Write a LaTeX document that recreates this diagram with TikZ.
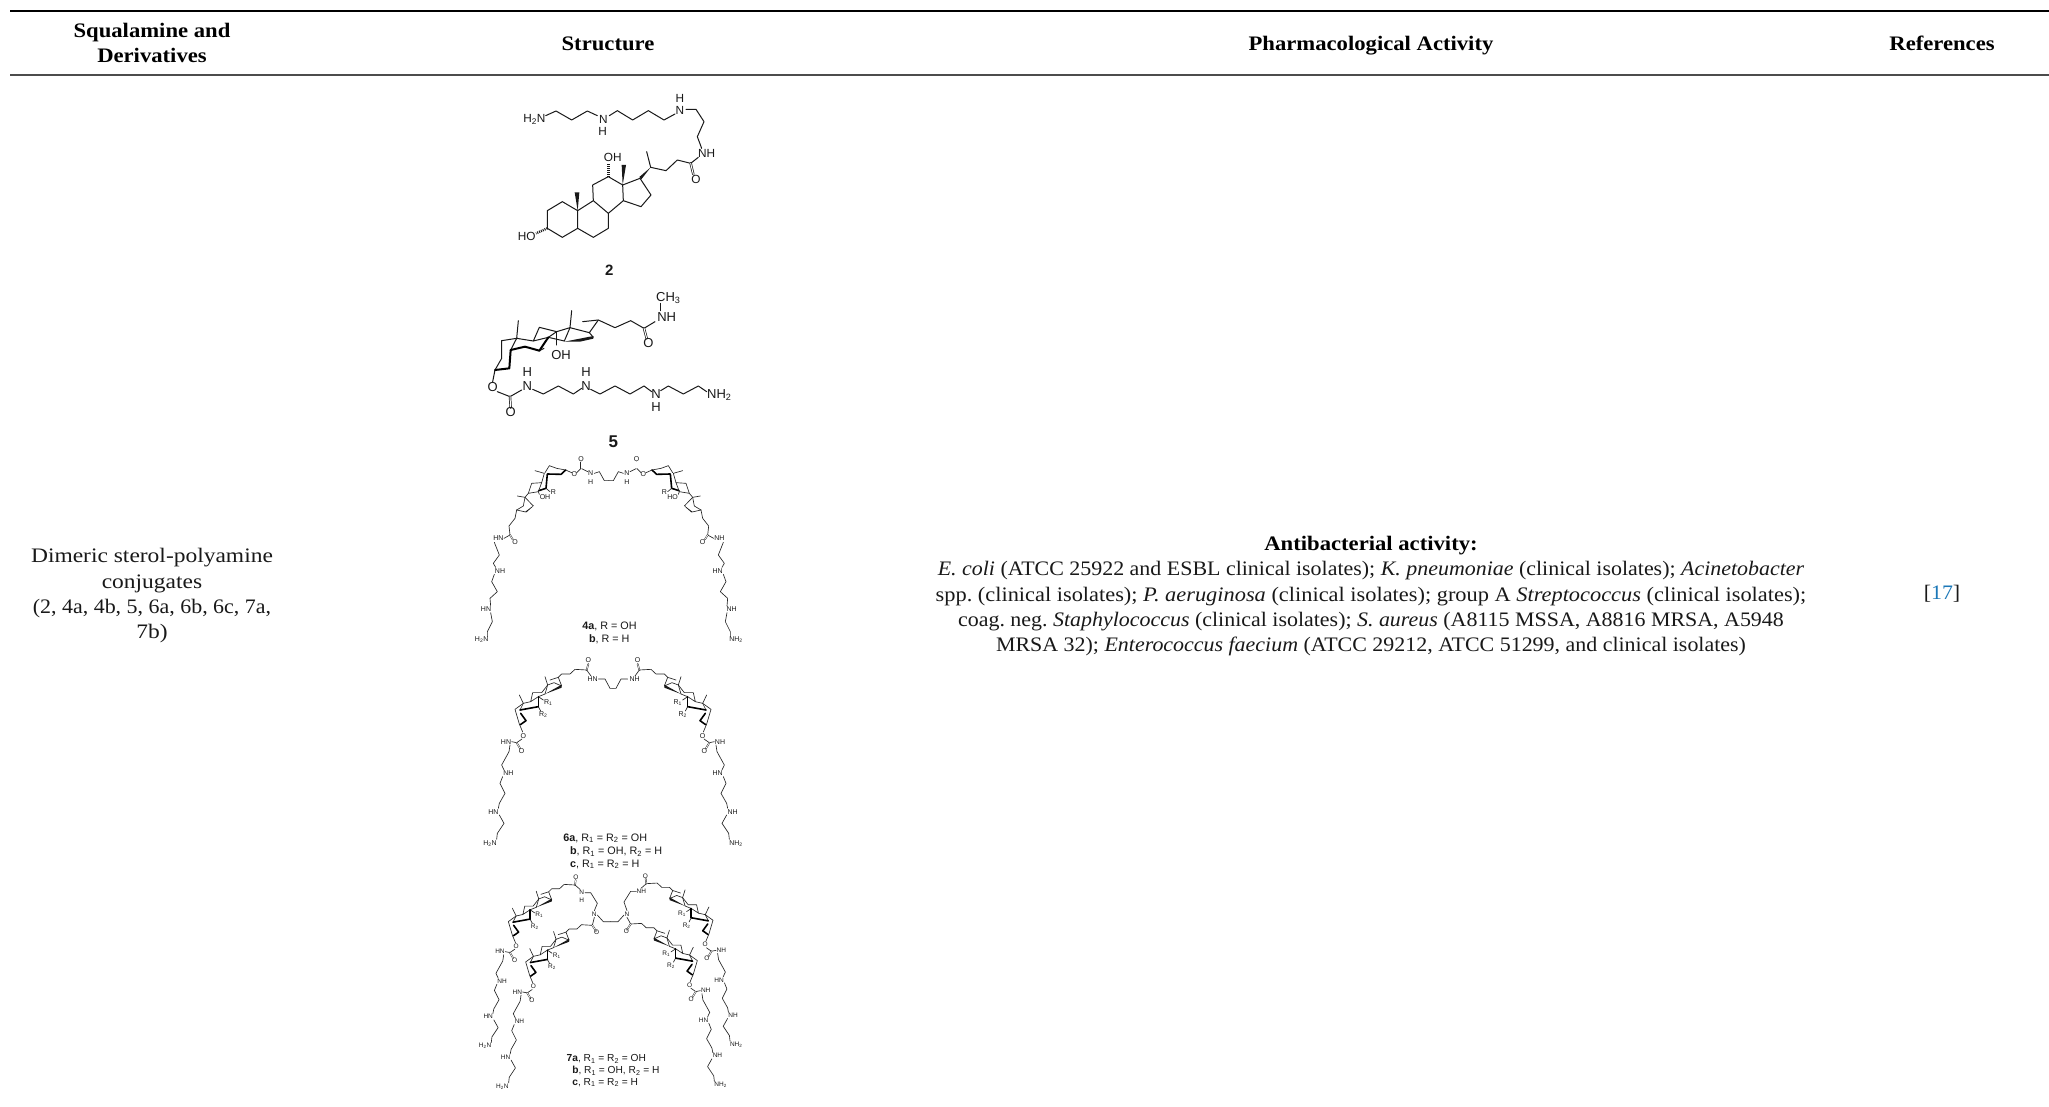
\documentclass[tikz,border=0pt]{standalone}
\usepackage{fontspec}
\usepackage{xcolor}
\setmainfont[FakeStretch=1.065]{Liberation Serif}
\newfontfamily\boldf[FakeStretch=1.1]{Liberation Serif}
\newfontfamily\chemf{Liberation Sans}
\definecolor{reflink}{HTML}{1C78B8}
\newcounter{labc}
\def\lb(#1,#2)#3{\stepcounter{labc}\node[lab] (lab\arabic{labc}) at (#1,#2) {#3};}
\newcommand{\cfs}[1]{\chemf\fontsize{#1}{#1}\selectfont}
\tikzset{
  lab/.style={inner sep=0pt,outer sep=0pt,text=black!90},
  bondl/.style={line width=1pt,line join=round,line cap=round,black!90},
  bonds/.style={line width=.65pt,line join=round,line cap=round,black!85},
  bolds/.style={line width=1.6pt,line join=round,line cap=round,black},
  boldl/.style={line width=2pt,line join=round,line cap=round,black},
  dbll/.style={bondl,double,double distance=1pt,line width=.7pt},
  dbls/.style={line width=.45pt,line cap=round,double,double distance=.7pt,black!85},
  hashb/.style={bondl,dash pattern=on 1pt off 1pt,line width=2.4pt,line cap=butt},
  tabt/.style={inner sep=0pt,outer sep=0pt,anchor=base,font=\fontsize{20.6}{25}\selectfont,text=black!90},
  tabb/.style={tabt,font=\boldf\fontsize{20.6}{25}\selectfont\bfseries,text=black},
  wedgef/.style={fill=black!90},
}
\newcommand{\armsix}[4]{%
  \draw[bonds] (380,60)--(345,58)--(330,72)--(305,72)--(295,82)--(270,90);
  \draw[bonds] (295,82)--(305,108)--(282,98)--(263,105)--(255,80);
  \draw[bonds] (263,105)--(255,132);
  \draw[bonds] (263,105)--(245,128)--(218,128)--(212,155)--(235,140)--(255,132);
  \fill[wedgef] (255,132)--(305,104)--(305,113)--cycle;
  \draw[bonds] (235,140)--(250,150);
  \draw[bolds] (235,140)--(235,170);
  \draw[bonds] (235,170)--(242,183);
  \draw[bonds] (178,135)--(190,160)--(165,178)--(178,222)--(188,246);
  \draw[bonds] (190,160)--(212,155);
  \draw[bonds] (190,160)--(180,180);
  \draw[bolds] (180,180)--(235,170);
  \draw[bolds] (182,190)--(198,212)--(181,224);
  \draw[bonds] (186,267)--(170,278)--(155,275);
  \draw[dbls] (170,278)--(180,295);
  \draw[bonds] (150,285)--(147,305)--(125,345)--(132,360);
  \draw[bonds] (128,380)--(120,400)--(135,430)--(118,460)--(115,475);
  \draw[bonds] (118,495)--(132,520)--(112,550)--(110,568);
  \lb(190,257){O}
  \lb(185,302){O}
  \lb(138,275){#1}
  \lb(145,370){#2}
  \lb(100,485){#3}
  \lb(90,580){#4}
  \lb(265,157){R\textsubscript{1}}
  \lb(250,195){R\textsubscript{2}}
}
\newcommand{\armfour}[6]{%
  \draw[bonds] (447,92)--(433,92)--(418,65)--(403,70);
  \draw[bonds] (383,65)--(363,55)--(350,68);
  \draw[dbls] (363,55)--(363,37);
  \draw[bonds] (335,68)--(317,60)--(290,55)--(268,47)--(255,68);
  \draw[bolds] (317,60)--(303,73)--(262,72)--(258,115)--(236,122);
  \draw[bonds] (225,62)--(253,70)--(245,98)--(215,100)--(205,130)--(235,125);
  \draw[bonds] (245,98)--(235,125)--(238,133);
  \draw[bonds] (258,115)--(270,125);
  \draw[bonds] (172,138)--(195,142)--(205,130);
  \draw[bonds] (195,142)--(190,168)--(170,180);
  \draw[bonds] (195,142)--(220,168);
  \fill[wedgef] (196,185)--(221,166)--(216,172)--(199,187)--cycle;
  \draw[bonds] (170,180)--(197,186);
  \draw[bonds] (170,180)--(165,205)--(147,228)--(150,255)--(132,265);
  \draw[dbls] (150,255)--(158,268);
  \draw[bonds] (103,277)--(118,315)--(100,340)--(107,352);
  \draw[bonds] (103,373)--(95,395)--(112,425)--(90,445)--(92,468);
  \draw[bonds] (92,488)--(97,515)--(82,545)--(82,560);
  \lb(343,72){O}
  \lb(363,28){O}
  \lb(392,70){N}
  \lb(392,95){H}
  \lb(255,142){#1}
  \lb(280,127){#2}
  \lb(165,276){O}
  \lb(115,265){#3}
  \lb(120,363){#4}
  \lb(78,478){#5}
  \lb(65,570){#6}
}
\begin{document}
\begin{tikzpicture}[x=1pt,y=-1pt]
\useasboundingbox (0,0) rectangle (2049,1107);
\fill[white] (0,0) rectangle (2049,1107);
\coordinate (r1a) at (10,11); \coordinate (r1b) at (2049,11);
\coordinate (r2a) at (10,75); \coordinate (r2b) at (2049,75);
\draw[line width=2.2pt,black] (r1a)--(r1b);
\draw[line width=1.2pt,black!70] (r2a)--(r2b);
\node[tabb] (h1a) at (152,37.5) {Squalamine and};
\node[tabb] (h1b) at (152,62.5) {Derivatives};
\node[tabb] (h2) at (608,50.5) {Structure};
\node[tabb] (h3) at (1371,50.5) {Pharmacological Activity};
\node[tabb] (h4) at (1942,50.5) {References};
\node[tabt,xscale=1.07,transform shape] (c1a) at (152,562) {Dimeric sterol-polyamine};
\node[tabt,xscale=1.07,transform shape] (c1b) at (152,588) {conjugates};
\node[tabt] (c1c) at (152,613) {(2, 4a, 4b, 5, 6a, 6b, 6c, 7a,};
\node[tabt,xscale=1.07,transform shape] (c1d) at (152,638) {7b)};
\node[tabb] (a0) at (1371,550) {Antibacterial activity:};
\node[tabt] (a1) at (1371,575) {\textit{E.\ coli} (ATCC 25922 and ESBL clinical isolates); \textit{K.\ pneumoniae} (clinical isolates); \textit{Acinetobacter}};
\node[tabt,xscale=1.02,transform shape] (a2) at (1371,601) {spp.\ (clinical isolates); \textit{P.\ aeruginosa} (clinical isolates); group A \textit{Streptococcus} (clinical isolates);};
\node[tabt] (a3) at (1371,626) {coag.\ neg.\ \textit{Staphylococcus} (clinical isolates); \textit{S.\ aureus} (A8115 MSSA, A8816 MRSA, A5948};
\node[tabt] (a4) at (1371,651) {MRSA 32); \textit{Enterococcus faecium} (ATCC 29212, ATCC 51299, and clinical isolates)};
\node[tabt] (ref) at (1942,599) {[{\color{reflink}17}]};
% molecule 2
\begin{scope}[shift={(480,80)},scale=1/3,every node/.append style={font=\cfs{11.8}}]
\draw[bondl] (197,107)--(228,93)--(275,120)--(322,93)--(352,107);
\draw[bondl] (388,107)--(412,92)--(458,120)--(505,92)--(552,120)--(585,102);
\draw[bondl] (618,88)--(648,88)--(672,125)--(652,170)--(665,205);
\draw[bondl] (655,232)--(632,250)--(592,240)--(558,272)--(512,262)--(500,215);
\draw[dbll] (632,250)--(640,283);
\fill[wedgef] (512,262)--(478,291)--(484,298)--cycle;
\draw[bondl] (480,295)--(513,345)--(483,380)--(430,362)--(428,315)--(480,295);
\fill[wedgef] (428,315)--(425,255)--(438,255)--cycle;
\draw[bondl] (428,315)--(385,290)--(338,315)--(340,362)--(385,400)--(430,362);
\draw[hashb] (385,290)--(385,250);
\draw[bondl] (340,362)--(293,392)--(293,445)--(340,472)--(385,445)--(385,400);
\draw[bondl] (293,392)--(247,365)--(202,392)--(202,445)--(247,472)--(293,445);
\fill[wedgef] (293,392)--(284,337)--(298,337)--cycle;
\draw[hashb] (202,445)--(168,460);
\lb(163,118){H\textsubscript{2}N}
\lb(370,118){N}
\lb(368,155){H}
\lb(600,92){N}
\lb(600,55){H}
\lb(680,220){NH}
\lb(648,297){O}
\lb(398,232){OH}
\lb(140,468){HO}
\node[lab,font=\cfs{15}\bfseries] (n2) at (388,572) {2};
\end{scope}
% molecule 5
\begin{scope}[shift={(480,280)},scale=1/3,every node/.append style={font=\cfs{13}}]
\draw[bondl] (541,70)--(541,92);
\draw[bondl] (525,125)--(492,145)--(452,122)--(405,143)--(355,120)--(308,125);
\draw[dbll] (492,145)--(500,175);
\draw[bondl] (355,120)--(328,158)--(340,172);
\draw[bondl] (328,158)--(270,143)--(275,92);
\draw[bondl] (270,143)--(253,183);
\fill[wedgef] (253,185)--(340,168)--(340,176)--(300,185)--cycle;
\draw[bondl] (270,143)--(230,155)--(178,142)--(160,183)--(205,172)--(230,155);
\draw[bondl] (205,172)--(253,183);
\draw[bondl] (230,155)--(230,195);
\draw[boldl] (205,172)--(178,212);
\draw[bondl] (178,212)--(192,205);
\draw[bondl] (160,183)--(110,175)--(115,122);
\draw[bondl] (65,182)--(110,175)--(92,210);
\draw[boldl] (92,210)--(135,200)--(178,212);
\draw[bondl] (65,182)--(65,235)--(45,270)--(38,305);
\draw[boldl] (92,210)--(88,265)--(45,270);
\draw[bondl] (52,335)--(90,350)--(125,330);
\draw[dbll] (90,350)--(92,383);
\draw[bondl] (158,328)--(190,342)--(235,318)--(280,342)--(305,325);
\draw[bondl] (332,328)--(360,342)--(405,318)--(450,342)--(492,318)--(515,335);
\draw[bondl] (542,332)--(565,318)--(610,342)--(655,318)--(680,335);
\lb(565,55){CH\textsubscript{3}}
\lb(560,112){NH}
\lb(505,190){O}
\lb(243,225){OH}
\lb(38,322){O}
\lb(92,397){O}
\lb(142,318){N}
\lb(142,275){H}
\lb(318,318){N}
\lb(318,275){H}
\lb(528,342){N}
\lb(528,382){H}
\lb(718,345){NH\textsubscript{2}}
\node[lab,font=\cfs{17}\bfseries] (n5) at (400,485) {5};
\end{scope}
% molecule 4
\begin{scope}[shift={(460,450)},scale=1/3,every node/.append style={font=\cfs{7}}]
\armfour{OH}{R}{HN}{NH}{HN}{H\textsubscript{2}N}
\begin{scope}[shift={(893,0)},xscale=-1]
\armfour{HO}{R}{NH}{HN}{NH}{NH\textsubscript{2}}
\end{scope}
\node[lab,anchor=west,font=\cfs{10.8}] (n4a) at (367,530) {\textbf{4a}, R = OH};
\node[lab,anchor=west,font=\cfs{10.8}] (n4b) at (387,568) {\textbf{b}, R = H};
\end{scope}
% molecule 6
\begin{scope}[shift={(460,650)},scale=1/3,every node/.append style={font=\cfs{7}}]
\armsix{HN}{NH}{HN}{H\textsubscript{2}N}
\draw[dbls] (380,60)--(385,42);
\draw[bonds] (380,60)--(393,78);
\draw[bonds] (415,87)--(435,87)--(450,115)--(459,115);
\lb(385,30){O}
\lb(398,88){HN}
\begin{scope}[shift={(918,0)},xscale=-1]
\armsix{NH}{HN}{NH}{NH\textsubscript{2}}
\draw[dbls] (380,60)--(385,42);
\draw[bonds] (380,60)--(393,78);
\draw[bonds] (415,87)--(435,87)--(450,115)--(459,115);
\lb(385,30){O}
\lb(394,88){NH}
\end{scope}
\node[lab,anchor=west,font=\cfs{10.8}] (n6a) at (310,565) {\textbf{6a}, R\textsubscript{1} = R\textsubscript{2} = OH};
\node[lab,anchor=west,font=\cfs{10.8}] (n6b) at (330,605) {\textbf{b}, R\textsubscript{1} = OH, R\textsubscript{2} = H};
\node[lab,anchor=west,font=\cfs{10.8}] (n6c) at (330,643) {\textbf{c}, R\textsubscript{1} = R\textsubscript{2} = H};
\end{scope}
% molecule 7
\begin{scope}[shift={(460,870)},scale=1/3,every node/.append style={font=\cfs{6.5}}]
\begin{scope}[shift={(-8.4,-10.8)},scale=.93]
\armsix{HN}{NH}{HN}{H\textsubscript{2}N}
\end{scope}
\begin{scope}[shift={(43.6,110.2)},scale=.93]
\armsix{HN}{NH}{HN}{H\textsubscript{2}N}
\end{scope}
\draw[dbls] (345,45)--(347,30);
\draw[bonds] (345,45)--(360,58);
\draw[bonds] (375,68)--(392,68)--(412,100)--(403,122);
\draw[bonds] (412,135)--(430,155)--(452,155);
\draw[bonds] (403,142)--(397,166);
\draw[dbls] (397,166)--(408,183);
\lb(348,22){O}
\lb(365,68){N}
\lb(365,92){H}
\lb(403,132){N}
\lb(410,187){O}
\begin{scope}[shift={(904,-4)},xscale=-1]
\begin{scope}[shift={(-8.4,-10.8)},scale=.93]
\armsix{NH}{HN}{NH}{NH\textsubscript{2}}
\end{scope}
\begin{scope}[shift={(38.6,110.2)},scale=.93]
\armsix{NH}{HN}{NH}{NH\textsubscript{2}}
\end{scope}
\draw[dbls] (345,45)--(347,30);
\draw[bonds] (345,45)--(360,58);
\draw[bonds] (375,68)--(392,68)--(412,100)--(403,126);
\draw[bonds] (412,139)--(430,159)--(452,159);
\draw[bonds] (403,146)--(392,166);
\draw[dbls] (392,166)--(403,183);
\lb(348,22){O}
\lb(360,68){NH}
\lb(403,136){N}
\lb(405,187){O}
\end{scope}
\node[lab,anchor=west,font=\cfs{10.2}] (n7a) at (320,567) {\textbf{7a}, R\textsubscript{1} = R\textsubscript{2} = OH};
\node[lab,anchor=west,font=\cfs{10.2}] (n7b) at (337,603) {\textbf{b}, R\textsubscript{1} = OH, R\textsubscript{2} = H};
\node[lab,anchor=west,font=\cfs{10.2}] (n7c) at (337,638) {\textbf{c}, R\textsubscript{1} = R\textsubscript{2} = H};
\end{scope}
\end{tikzpicture}
\end{document}
